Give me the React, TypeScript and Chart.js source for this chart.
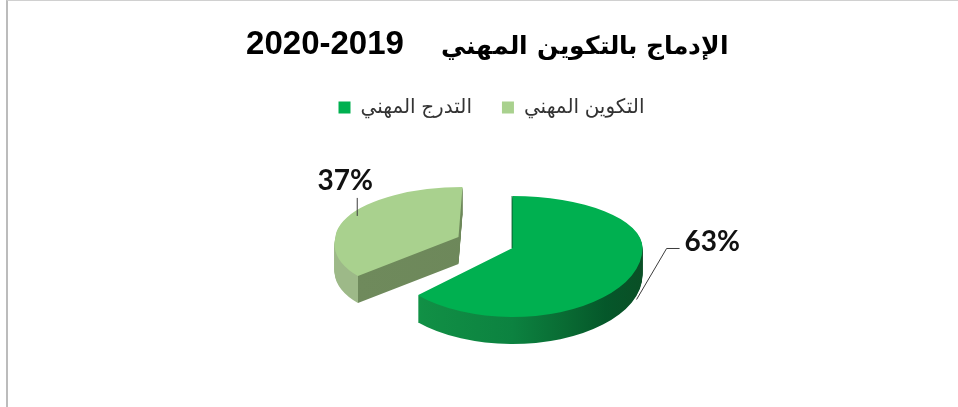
import React, { useEffect, useRef } from "react";
import { Chart, registerables } from "chart.js";

Chart.register(...registerables);

const categories = ["التدرج المهني", "التكوين المهني"];
const shares = [63, 37];
const sliceColors = ["#00b050", "#a9d18e"];
const chartTitle = "الإدماج بالتكوين المهني    2019-2020";

const DEPTH = 27;
const FONT = "TitleArabic, 'Liberation Sans', 'DejaVu Sans', Arial, sans-serif";
const LEGEND_FONT = "'Liberation Sans', 'DejaVu Sans', Arial, sans-serif";

// perspective look of each slice (the library draws the arc, this places it)
const looks = [
  { moveX: 25, moveY: 0, sx: 1, up: 52, down: 69, shearUp: 0, shearDown: 0 },
  { moveX: -29, moveY: -11, sx: 0.946, up: 50, down: 57, shearUp: -0.08, shearDown: -0.28 },
];

function placeArc(ctx: CanvasRenderingContext2D, arc: any, look: any, drop: number, W: number, H: number) {
  const px = arc.x + look.moveX;
  const py = Math.round(arc.y + look.moveY + drop);
  const R = arc.outerRadius;
  for (const part of ["up", "down"]) {
    ctx.save();
    ctx.beginPath();
    if (part === "up") ctx.rect(0, 0, W, py);
    else ctx.rect(0, py, W, H - py);
    ctx.clip();
    const k = (part === "up" ? look.up : look.down) / R;
    const shear = part === "up" ? look.shearUp : look.shearDown;
    ctx.transform(look.sx, 0, shear * k, k, px, py);
    ctx.translate(-arc.x, -arc.y);
    arc.draw(ctx);
    ctx.restore();
  }
}

const pie3d = {
  id: "pie3d",
  afterLayout(chart: any) {
    chart.legend.left += 8;
  },
  beforeDatasetsDraw(chart: any) {
    const ctx = chart.ctx as CanvasRenderingContext2D;
    const arcs = chart.getDatasetMeta(0).data;
    const W = chart.width;
    const H = chart.height;
    const order = [1, 0];
    for (const i of order) {
      const arc = arcs[i];
      const look = looks[i];
      const base = arc.options;
      const R = arc.outerRadius;
      const g = ctx.createLinearGradient(arc.x - R, 0, arc.x + R, 0);
      if (i === 0) {
        g.addColorStop(0, "#12a04c");
        g.addColorStop(0.16, "#118f45");
        g.addColorStop(0.5, "#0c8240");
        g.addColorStop(0.7, "#096b33");
        g.addColorStop(0.86, "#05572a");
        g.addColorStop(1, "#0a4f26");
      } else {
        const corner = (1 + Math.sin(arc.startAngle + Math.PI / 2)) / 2;
        g.addColorStop(0, "#9db988");
        g.addColorStop(corner, "#9db988");
        g.addColorStop(corner, "#6f8a5c");
        g.addColorStop(1, "#6b8558");
      }
      arc.options = { ...base, backgroundColor: g };
      for (let d = DEPTH; d >= 1; d--) placeArc(ctx, arc, look, d, W, H);
      arc.options = base;
      placeArc(ctx, arc, look, 0, W, H);
    }
    return undefined;
  },
  beforeDatasetDraw() {
    return false;
  },
  afterDatasetsDraw(chart: any) {
    const ctx = chart.ctx as CanvasRenderingContext2D;
    const arcs = chart.getDatasetMeta(0).data;
    const rimPoint = (i: number, f: number, drop: number) => {
      const arc = arcs[i];
      const look = looks[i];
      const mid = (arc.startAngle + arc.endAngle) / 2;
      const c = Math.cos(mid) * arc.outerRadius * f * look.sx;
      const s = Math.sin(mid);
      const ky = s < 0 ? look.up : look.down;
      const sh = s < 0 ? look.shearUp : look.shearDown;
      return {
        x: arc.x + look.moveX + c + sh * s * ky * f,
        y: Math.round(arc.y + look.moveY) + s * ky * f + drop,
      };
    };
    ctx.save();
    ctx.direction = "ltr";

    // thin shaded cut edge of the large slice
    const main = arcs[0];
    const edgeX = main.x + looks[0].moveX - 0.5;
    const edgeY = Math.round(main.y + looks[0].moveY);
    ctx.strokeStyle = "rgba(8,90,45,0.8)";
    ctx.lineWidth = 1;
    ctx.beginPath();
    ctx.moveTo(edgeX, edgeY);
    ctx.lineTo(edgeX, edgeY - looks[0].up);
    ctx.stroke();

    ctx.strokeStyle = "#3c3c3c";
    ctx.fillStyle = "#111111";
    ctx.font = "bold 28px Lato, 'Open Sans', sans-serif";
    ctx.textBaseline = "middle";

    const a = rimPoint(0, 1.04, DEPTH - 4);
    ctx.beginPath();
    ctx.moveTo(a.x, a.y);
    ctx.lineTo(a.x + 30, a.y - 51);
    ctx.lineTo(a.x + 43, a.y - 51);
    ctx.stroke();
    ctx.textAlign = "left";
    ctx.fillText(shares[0] + "%", a.x + 48, a.y - 58);

    const b = rimPoint(1, 0.91, 0);
    ctx.beginPath();
    ctx.moveTo(b.x, b.y - 3);
    ctx.lineTo(b.x, b.y - 21);
    ctx.stroke();
    ctx.textAlign = "center";
    ctx.fillText(shares[1] + "%", b.x - 12, b.y - 38);
    ctx.restore();
  },
};

export default function App() {
  const ref = useRef<HTMLCanvasElement | null>(null);
  useEffect(() => {
    let chart: any = null;
    let gone = false;
    const build = () => {
      if (gone || !ref.current) return;
      chart = new Chart(ref.current, {
        type: "pie",
        data: {
          labels: categories,
          datasets: [{ data: shares, backgroundColor: sliceColors, borderWidth: 0 }],
        },
        options: {
          responsive: false,
          animation: false,
          devicePixelRatio: 1,
          radius: 130,
          rotation: 0,
          layout: { padding: { left: 17, top: 0, right: 0, bottom: 39 } },
          plugins: {
            tooltip: { enabled: false },
            title: {
              display: true,
              text: chartTitle,
              color: "#000000",
              font: { family: FONT, size: 33, weight: "bold" },
              padding: { top: 25, bottom: 3 },
            },
            legend: {
              display: true,
              position: "top",
              labels: {
                color: "#333333",
                font: { family: LEGEND_FONT, size: 20, weight: "normal" },
                boxWidth: 12,
                boxHeight: 12,
                padding: 30,
              },
            },
          },
        },
        plugins: [pie3d],
      } as any);
    };
    const face = new (window as any).FontFace("TitleArabic", 'local("DejaVu Sans Bold")', {
      weight: "bold",
      unicodeRange: "U+0600-06FF, U+FB50-FDFF, U+FE70-FEFF",
      sizeAdjust: "76%",
    });
    face
      .load()
      .then(() => {
        (document as any).fonts.add(face);
      })
      .catch(() => undefined)
      .then(build);
    return () => {
      gone = true;
      if (chart) chart.destroy();
    };
  }, []);
  return (
    <div style={{ position: "fixed", left: 0, top: 0, width: 958, height: 407, background: "#ffffff" }}>
      <canvas ref={ref} width={958} height={407} dir="rtl" style={{ display: "block" }} />
      <div
        style={{
          position: "absolute",
          left: 6,
          top: 0,
          right: 0,
          bottom: 0,
          borderLeft: "2px solid #bcbcbc",
          borderTop: "1px solid #d0d0d0",
          pointerEvents: "none",
        }}
      />
    </div>
  );
}
